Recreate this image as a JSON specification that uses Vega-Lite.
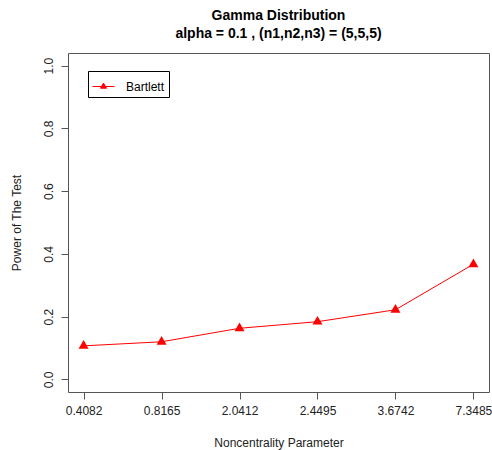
{
  "$schema": "https://vega.github.io/schema/vega-lite/v6.json",
  "autosize": "none",
  "width": 421,
  "height": 339,
  "padding": {"left": 68, "top": 53, "right": 3, "bottom": 58},
  "background": "white",
  "title": {
    "text": ["Gamma Distribution", "alpha = 0.1 , (n1,n2,n3) = (5,5,5)"],
    "font": "Liberation Sans",
    "fontSize": 14,
    "fontWeight": "bold",
    "color": "#000",
    "lineHeight": 18,
    "anchor": "middle",
    "offset": 12
  },
  "data": {
    "values": [
      {"ncp": "0.4082", "power": 0.107, "series": "Bartlett"},
      {"ncp": "0.8165", "power": 0.120, "series": "Bartlett"},
      {"ncp": "2.0412", "power": 0.163, "series": "Bartlett"},
      {"ncp": "2.4495", "power": 0.184, "series": "Bartlett"},
      {"ncp": "3.6742", "power": 0.222, "series": "Bartlett"},
      {"ncp": "7.3485", "power": 0.367, "series": "Bartlett"}
    ]
  },
  "encoding": {
    "x": {
      "field": "ncp",
      "type": "ordinal",
      "sort": null,
      "scale": {"type": "point", "padding": 0.2},
      "axis": {
        "title": "Noncentrality Parameter",
        "labelAngle": 0,
        "domain": false,
        "ticks": true,
        "tickSize": 7,
        "tickColor": "#555",
        "labelPadding": 6,
        "titlePadding": 21
      }
    },
    "y": {
      "field": "power",
      "type": "quantitative",
      "scale": {"domain": [-0.04, 1.04], "nice": false, "zero": false},
      "axis": {
        "title": "Power of The Test",
        "values": [0, 0.2, 0.4, 0.6, 0.8, 1.0],
        "format": ".1f",
        "labelAngle": -90,
        "domain": false,
        "grid": false,
        "tickSize": 7,
        "tickColor": "#555",
        "labelPadding": 6,
        "titlePadding": 19
      }
    },
    "color": {
      "field": "series",
      "type": "nominal",
      "scale": {"domain": ["Bartlett"], "range": ["#ff0000"]},
      "legend": {
        "title": null,
        "orient": "none",
        "legendX": 20,
        "legendY": 18,
        "strokeColor": "#000",
        "fillColor": "white",
        "padding": 4,
        "symbolType": "M-1,0L1,0M0,-0.31L0.27,0.156L-0.27,0.156Z",
        "symbolSize": 484,
        "symbolStrokeWidth": 1,
        "symbolFillColor": "#ff0000",
        "symbolStrokeColor": "#ff0000",
        "symbolOpacity": 1,
        "labelOffset": 11,
        "labelFont": "Liberation Sans",
        "labelFontSize": 12,
        "labelColor": "#000"
      }
    }
  },
  "layer": [
    {"mark": {"type": "line", "strokeWidth": 1}},
    {"mark": {"type": "point", "filled": true, "opacity": 1, "size": 133, "shape": "M0,-1L0.866,0.5L-0.866,0.5Z"}}
  ],
  "config": {
    "view": {"stroke": "#555", "strokeWidth": 1, "fill": "white"},
    "axis": {
      "labelFont": "Liberation Sans",
      "labelFontSize": 12,
      "labelColor": "#222",
      "titleFont": "Liberation Sans",
      "titleFontSize": 12,
      "titleFontWeight": "normal",
      "titleColor": "#222",
      "grid": false
    }
  }
}
